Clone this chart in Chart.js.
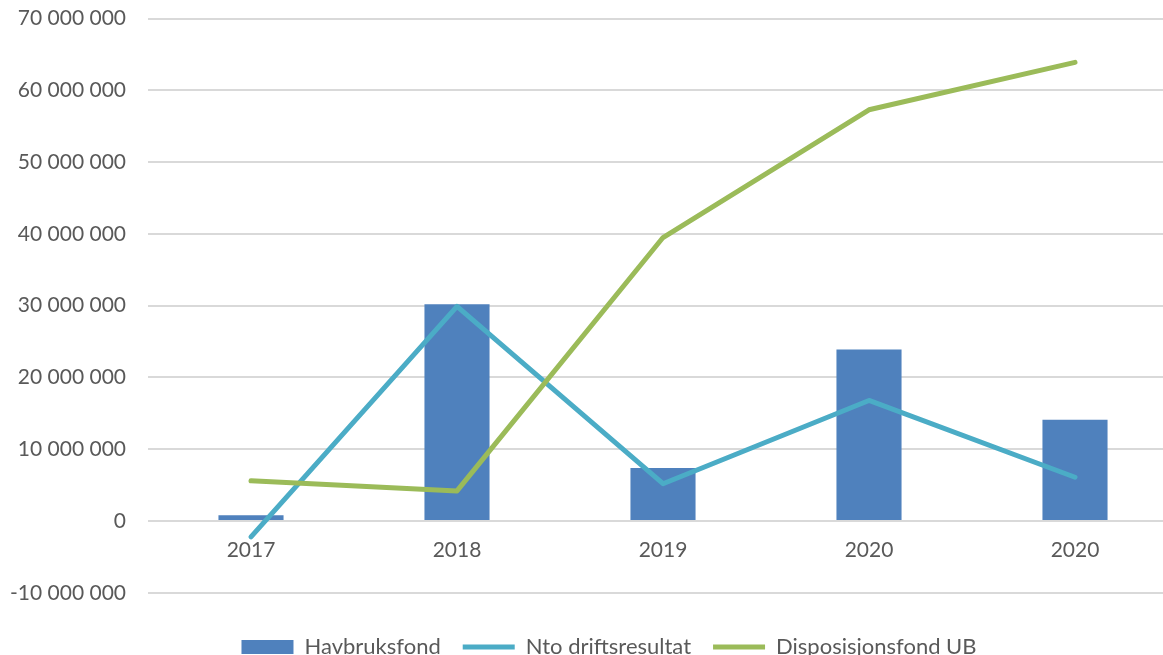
<!DOCTYPE html>
<html>
<head>
<meta charset="utf-8">
<script src="https://cdn.jsdelivr.net/npm/chart.js@4"></script>
<style>
  html, body { margin: 0; padding: 0; background: #fff; overflow: hidden; }
  #wrap { width: 1178px; height: 655px; position: relative; }
</style>
</head>
<body>
<div id="wrap"><canvas id="chart"></canvas></div>
<script>
const years = ["2017", "2018", "2019", "2020", "2020"];
const havbruksfond = [800000, 30200000, 7400000, 23900000, 14100000];
const ntoDriftsresultat = [-2200000, 29900000, 5200000, 16800000, 6100000];
const disposisjonsfond = [5600000, 4200000, 39500000, 57300000, 63900000];
const yTicks = [-10000000, 0, 10000000, 20000000, 30000000, 40000000, 50000000, 60000000, 70000000];

const textColor = "#595959";
const fontFamily = "Lato, 'Open Sans', sans-serif";

// tall med mellomrom som tusenskille
function formatNumber(v) {
  const s = Math.abs(v).toString().replace(/\B(?=(\d{3})+(?!\d))/g, " ");
  return (v < 0 ? "-" : "") + s;
}

// flytter legenden litt mot høyre, som i originalen
const legendShift = {
  id: "legendShift",
  afterLayout(chart) {
    if (chart.legend) {
      chart.legend.left += 20;
      chart.legend.right += 20;
    }
  }
};

const ctx = document.getElementById("chart").getContext("2d");
new Chart(ctx, {
  type: "bar",
  data: {
    labels: years,
    datasets: [
      {
        label: "Havbruksfond",
        data: havbruksfond,
        backgroundColor: "#4F81BD",
        borderWidth: 0,
        barPercentage: 1,
        categoryPercentage: 0.316,
        pointStyle: "rect",
        order: 3
      },
      {
        type: "line",
        label: "Nto driftsresultat",
        data: ntoDriftsresultat,
        borderColor: "#4BACC6",
        backgroundColor: "#4BACC6",
        borderWidth: 5,
        borderCapStyle: "round",
        borderJoinStyle: "round",
        pointRadius: 0,
        pointStyle: "line",
        tension: 0,
        order: 2
      },
      {
        type: "line",
        label: "Disposisjonsfond UB",
        data: disposisjonsfond,
        borderColor: "#9BBB59",
        backgroundColor: "#9BBB59",
        borderWidth: 5,
        borderCapStyle: "round",
        borderJoinStyle: "round",
        pointRadius: 0,
        pointStyle: "line",
        tension: 0,
        order: 1
      }
    ]
  },
  plugins: [legendShift],
  options: {
    responsive: true,
    maintainAspectRatio: false,
    animation: false,
    layout: { padding: { top: 0, right: 0, left: 0, bottom: -13 } },
    plugins: {
      tooltip: { enabled: false },
      legend: {
        position: "bottom",
        title: { display: true, text: "", font: { size: 1 }, padding: { top: 0, bottom: 20 } },
        labels: {
          usePointStyle: true,
          pointStyleWidth: 52,
          boxHeight: 14,
          padding: 22,
          color: textColor,
          font: { family: fontFamily, size: 22 },
          sort: (a, b) => a.datasetIndex - b.datasetIndex
        }
      }
    },
    scales: {
      x: {
        position: { y: 0 },
        grid: { display: false, drawTicks: false },
        border: { display: false },
        ticks: {
          color: textColor,
          padding: 17,
          font: { family: fontFamily, size: 21 }
        }
      },
      y: {
        min: -10000000,
        max: 70000000,
        afterFit: (scale) => { scale.width = 148; },
        afterBuildTicks: (scale) => { scale.ticks = yTicks.map((v) => ({ value: v })); },
        grid: { color: "#D9D9D9", lineWidth: 2, drawTicks: true, tickLength: 16, tickColor: "rgba(0,0,0,0)" },
        border: { display: false },
        ticks: {
          color: textColor,
          padding: 6,
          font: { family: fontFamily, size: 21 },
          callback: (v) => formatNumber(v)
        }
      }
    }
  }
});
</script>
</body>
</html>
